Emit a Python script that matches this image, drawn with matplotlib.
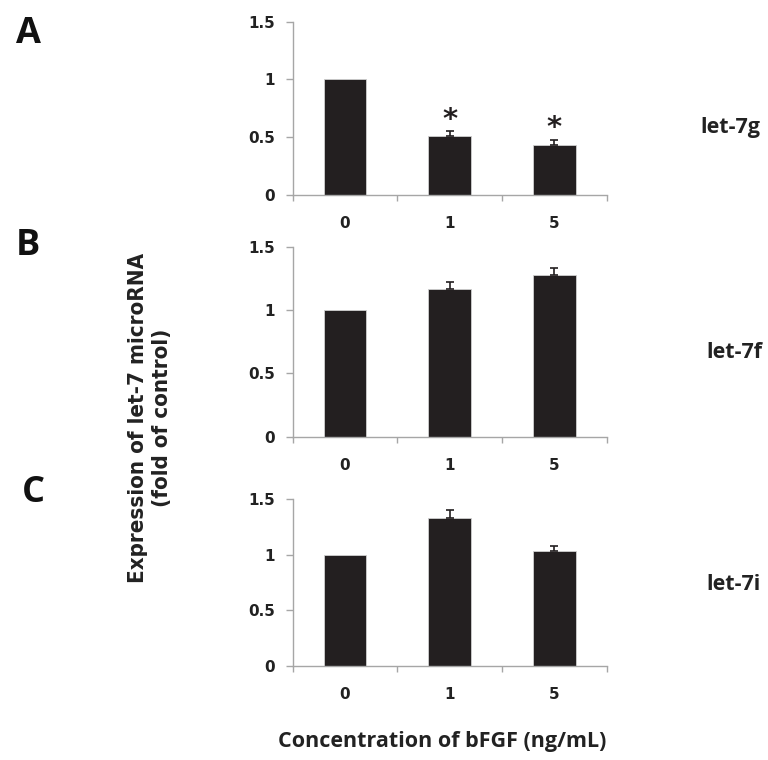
import matplotlib
matplotlib.use("Agg")
import matplotlib.pyplot as plt
import numpy as np

categories = ["0", "1", "5"]
mirnas = ["let-7g", "let-7f", "let-7i"]
panel_letters = ["A", "B", "C"]
means = {
    "let-7g": [1.00, 0.51, 0.43],
    "let-7f": [1.00, 1.17, 1.28],
    "let-7i": [1.00, 1.33, 1.03],
}
errors = {
    "let-7g": [0.0, 0.04, 0.05],
    "let-7f": [0.0, 0.055, 0.05],
    "let-7i": [0.0, 0.07, 0.05],
}
significant = {
    "let-7g": [False, True, True],
    "let-7f": [False, False, False],
    "let-7i": [False, False, False],
}
yticks = [0, 0.5, 1, 1.5]
yticklabels = ["0", "0.5", "1", "1.5"]

W, H = 768, 760
fig = plt.figure(figsize=(W / 100, H / 100), dpi=100)

# axes rectangles in pixels: (left, top, right, bottom)
rects = [(292.7, 21.7, 606.7, 195.0),
         (292.7, 246.7, 606.7, 436.7),
         (292.7, 499.3, 606.7, 665.7)]
label_pos = [(700, 127), (706, 352), (706, 585)]
letter_pos = [(28, 34), (28, 246), (33, 493)]

axis_col = "#a6a6a6"
bar_col = "#231f20"
tick_font = dict(family="DejaVu Sans", weight="bold", size=11)

x = np.arange(len(categories))
for i, m in enumerate(mirnas):
    l, t, r, b = rects[i]
    ax = fig.add_axes([l / W, 1 - b / H, (r - l) / W, (b - t) / H])
    ax.bar(x, means[m], width=0.41, color=bar_col, edgecolor="#d0d0d0", linewidth=0.6, zorder=2)
    err = np.array(errors[m])
    has = err > 0
    ax.errorbar(x[has], np.array(means[m])[has], yerr=[np.zeros(has.sum()), err[has]], fmt="none",
                ecolor=bar_col, elinewidth=1.2, capsize=3, capthick=1.2, zorder=3)
    for j, s in enumerate(significant[m]):
        if s:
            ax.annotate("*", (x[j], means[m][j] + errors[m][j]), xytext=(0, -2),
                        textcoords="offset points", ha="center", va="bottom",
                        fontsize=21, fontweight="bold", family="DejaVu Sans", color=bar_col)
    ax.set_xlim(-0.5, 2.5)
    ax.set_ylim(0, 1.5)
    for sp in ["top", "right"]:
        ax.spines[sp].set_visible(False)
    for sp in ["left", "bottom"]:
        ax.spines[sp].set_color(axis_col)
        ax.spines[sp].set_linewidth(1.0)
    ax.set_yticks(yticks)
    ax.set_yticklabels(yticklabels, **tick_font)
    ax.set_xticks(x)
    ax.set_xticklabels(categories, **tick_font)
    ax.set_xticks([-0.5, 0.5, 1.5, 2.5], minor=True)
    ax.tick_params(axis="y", length=5, width=1.0, color=axis_col, pad=8, labelcolor="#222222")
    ax.tick_params(axis="x", which="major", length=0, pad=15, labelcolor="#222222")
    ax.tick_params(axis="x", which="minor", length=4, width=1.0, color=axis_col, direction="out")
    lx, ly = label_pos[i]
    fig.text(lx / W, 1 - ly / H, m, ha="left", va="center", family="Open Sans",
             fontweight="bold", fontsize=15.5, color="#222222")
    px, py = letter_pos[i]
    fig.text(px / W, 1 - py / H, panel_letters[i], ha="center", va="center",
             family="Open Sans", fontweight="bold", fontsize=26, color="#111111")

fig.text(150 / W, 1 - 418 / H, "Expression of let-7 microRNA\n(fold of control)",
         rotation=90, ha="center", va="center", family="DejaVu Sans",
         fontstretch="condensed", fontsize=16, fontweight="bold", color="#222222",
         linespacing=1.3)
fig.text(442 / W, 1 - 742 / H, "Concentration of bFGF (ng/mL)", ha="center", va="center",
         family="Open Sans", fontweight="bold", fontsize=15.5, color="#222222")

fig.savefig("out.png", dpi=100)
